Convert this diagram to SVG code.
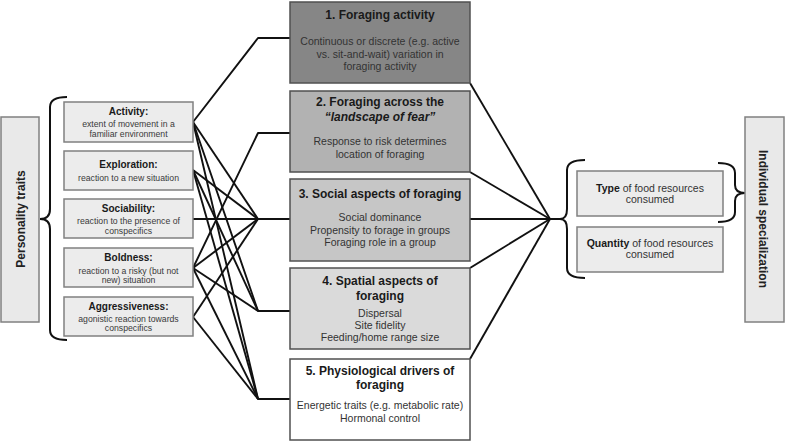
<svg xmlns="http://www.w3.org/2000/svg" width="785" height="441" viewBox="0 0 785 441">
<style>
text{font-family:"Liberation Sans",Arial,sans-serif;text-anchor:middle}
.tb{fill:#ececec;stroke:#808080;stroke-width:1.5}
.tt{font-size:10px;font-weight:bold;fill:#1a1a1a}
.td{font-size:8.7px;fill:#3a3a3a}
.bt{font-size:12px;font-weight:bold;fill:#1a1a1a}
.bd{font-size:10.5px;fill:#333}
.cb{stroke:#505050;stroke-width:1.5}
.side{fill:#e9e9e9;stroke:#808080;stroke-width:1.5}
.st{font-size:12px;font-weight:bold;fill:#222}
.rd{font-size:10.5px;fill:#333}
.ln{fill:none;stroke:#111;stroke-width:1.9;stroke-linejoin:round}
.br{fill:none;stroke:#111;stroke-width:2}
</style>
<g id="connectors" class="ln">
<polyline points="193,122 258,38 290,38"/>
<polyline points="193,268 258,133 290,133"/>
<line x1="193" y1="219" x2="290" y2="219"/>
<polyline points="193,122 258,219"/>
<polyline points="193,170 258,219"/>
<polyline points="193,268 258,219"/>
<polyline points="193,317 258,219"/>
<polyline points="193,122 258,311 290,311"/>
<polyline points="193,170 258,311"/>
<polyline points="193,268 258,311"/>
<polyline points="193,122 258,399 290,399"/>
<polyline points="193,170 258,399"/>
<polyline points="193,268 258,399"/>
<polyline points="193,317 258,399"/>
<line x1="470" y1="83" x2="550" y2="219"/>
<line x1="470" y1="172" x2="550" y2="219"/>
<line x1="470" y1="219" x2="560" y2="219"/>
<line x1="470" y1="268" x2="550" y2="219"/>
<line x1="470" y1="359" x2="550" y2="219"/>
</g>
<g id="personality-traits">
<rect class="side" x="1" y="117" width="38" height="205"/>
<text class="st" transform="translate(24.5,219) rotate(-90)">Personality traits</text>
<path class="br" d="M67,97 Q50,97 50,107 L50,209 Q50,219 40,219 Q50,219 50,229 L50,330 Q50,340 67,340"/>
</g>
<g id="activity">
<rect class="tb" x="64" y="102" width="129" height="40"/>
<text class="tt" x="128.5" y="114.5">Activity:</text>
<text class="td" x="128.5" y="127">extent of movement in a</text>
<text class="td" x="128.5" y="137">familiar environment</text>
</g>
<g id="exploration">
<rect class="tb" x="64" y="151" width="129" height="39"/>
<text class="tt" x="128.5" y="168">Exploration:</text>
<text class="td" x="128.5" y="181">reaction to a new situation</text>
</g>
<g id="sociability">
<rect class="tb" x="64" y="199" width="129" height="39"/>
<text class="tt" x="128.5" y="212">Sociability:</text>
<text class="td" x="128.5" y="224">reaction to the presence of</text>
<text class="td" x="128.5" y="234">conspecifics</text>
</g>
<g id="boldness">
<rect class="tb" x="64" y="248" width="129" height="39"/>
<text class="tt" x="128.5" y="260.5">Boldness:</text>
<text class="td" x="128.5" y="274">reaction to a risky (but not</text>
<text class="td" x="128.5" y="283">new) situation</text>
</g>
<g id="aggressiveness">
<rect class="tb" x="64" y="297" width="129" height="39"/>
<text class="tt" x="128.5" y="309.5">Aggressiveness:</text>
<text class="td" x="128.5" y="322">agonistic reaction towards</text>
<text class="td" x="128.5" y="331">conspecifics</text>
</g>
<g id="box1">
<rect class="cb" x="290" y="2" width="180" height="81" fill="#868686"/>
<text class="bt" x="380" y="19">1. Foraging activity</text>
<text class="bd" x="380" y="45" fill="#2a2a2a">Continuous or discrete (e.g. active</text>
<text class="bd" x="380" y="57.5" fill="#2a2a2a">vs. sit-and-wait) variation in</text>
<text class="bd" x="380" y="69.5" fill="#2a2a2a">foraging activity</text>
</g>
<g id="box2">
<rect class="cb" x="290" y="91" width="180" height="81" fill="#b2b2b2"/>
<text class="bt" x="380" y="105.5">2. Foraging across the</text>
<text class="bt" x="380" y="120.5" font-style="italic">“landscape of fear”</text>
<text class="bd" x="380" y="145">Response to risk determines</text>
<text class="bd" x="380" y="157.5">location of foraging</text>
</g>
<g id="box3">
<rect class="cb" x="290" y="179" width="180" height="82" fill="#c6c6c6"/>
<text class="bt" x="380" y="197.5">3. Social aspects of foraging</text>
<text class="bd" x="380" y="221">Social dominance</text>
<text class="bd" x="380" y="234">Propensity to forage in groups</text>
<text class="bd" x="380" y="245.5">Foraging role in a group</text>
</g>
<g id="box4">
<rect class="cb" x="290" y="268" width="180" height="81" fill="#dadada"/>
<text class="bt" x="380" y="285">4. Spatial aspects of</text>
<text class="bt" x="380" y="300">foraging</text>
<text class="bd" x="380" y="316.5">Dispersal</text>
<text class="bd" x="380" y="328.5">Site fidelity</text>
<text class="bd" x="380" y="341">Feeding/home range size</text>
</g>
<g id="box5">
<rect class="cb" x="290" y="359" width="180" height="81" fill="#ffffff"/>
<text class="bt" x="380" y="374.5">5. Physiological drivers of</text>
<text class="bt" x="380" y="388.5">foraging</text>
<text class="bd" x="380" y="409">Energetic traits (e.g. metabolic rate)</text>
<text class="bd" x="380" y="421.5">Hormonal control</text>
</g>
<g id="specialization-brace">
<path class="br" d="M585,160 Q567,160 567,170 L567,209 Q567,219 560,219 Q567,219 567,229 L567,268 Q567,278 585,278"/>
</g>
<g id="type">
<rect class="tb" x="577" y="171" width="146" height="45"/>
<text class="rd" x="650" y="191.5"><tspan font-weight="bold" fill="#1a1a1a">Type</tspan> of food resources</text>
<text class="rd" x="650" y="202.5">consumed</text>
</g>
<g id="quantity">
<rect class="tb" x="577" y="227" width="146" height="45"/>
<text class="rd" x="650" y="247"><tspan font-weight="bold" fill="#1a1a1a">Quantity</tspan> of food resources</text>
<text class="rd" x="650" y="258">consumed</text>
</g>
<g id="type-brace">
<path class="br" d="M718,163 Q735,163 735,173 L735,185 Q735,193 745,193 Q735,193 735,201 L735,212 Q735,222 718,222"/>
</g>
<g id="individual-specialization">
<rect class="side" x="745" y="117" width="39" height="205"/>
<text class="st" transform="translate(759,219) rotate(90)">Individual specialization</text>
</g>
</svg>
